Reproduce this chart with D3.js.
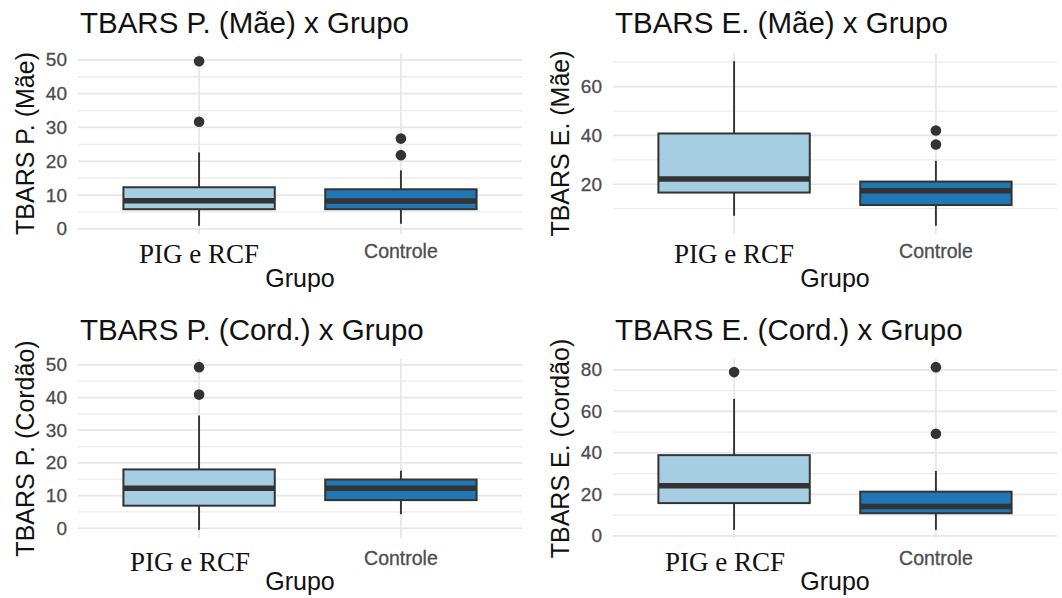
<!DOCTYPE html>
<html>
<head>
<meta charset="utf-8">
<script src="https://cdn.jsdelivr.net/npm/d3@7"></script>
<style>
  body { margin: 0; background: #fff; }
  svg { display: block; }
</style>
</head>
<body>
<div id="chart"></div>
<script>
// groups on the x axis
var groups = ["PIG e RCF", "Controle"];

// box stats: lo whisker, q1, median, q3, hi whisker, outliers
var pMae = [
    {group: "PIG e RCF", lo: 0.9, q1: 5.8, med: 8.3, q3: 12.3, hi: 22.6, out: [49.6, 31.7]},
    {group: "Controle",  lo: 1.5, q1: 5.8, med: 8.2, q3: 11.7, hi: 17.3, out: [26.7, 21.8]}
];
var eMae = [
    {group: "PIG e RCF", lo: 7.1, q1: 16.6, med: 22.2, q3: 40.8, hi: 70.4, out: []},
    {group: "Controle",  lo: 3.0, q1: 11.5, med: 17.3, q3: 21.1, hi: 29.6, out: [42.0, 36.3]}
];
var pCord = [
    {group: "PIG e RCF", lo: -0.5, q1: 6.9, med: 12.2, q3: 18.0, hi: 34.5, out: [49.3, 40.9]},
    {group: "Controle",  lo: 4.3,  q1: 8.6, med: 12.2, q3: 14.9, hi: 17.6, out: []}
];
var eCord = [
    {group: "PIG e RCF", lo: 2.9, q1: 15.8, med: 24.2, q3: 38.9, hi: 66.0, out: [78.9]},
    {group: "Controle",  lo: 2.9, q1: 10.9, med: 14.1, q3: 21.3, hi: 31.3, out: [81.3, 49.2]}
];

// tick labels
var ticksPMae = [0, 10, 20, 30, 40, 50];
var ticksEMae = [20, 40, 60];
var ticksPCord = [0, 10, 20, 30, 40, 50];
var ticksECord = [0, 20, 40, 60, 80];
var minorPMae = [5, 15, 25, 35, 45];
var minorEMae = [10, 30, 50, 70];
var minorPCord = [5, 15, 25, 35, 45];
var minorECord = [10, 30, 50, 70];

var titles = ["TBARS P. (Mãe) x Grupo", "TBARS E. (Mãe) x Grupo",
              "TBARS P. (Cord.) x Grupo", "TBARS E. (Cord.) x Grupo"];
var yTitles = ["TBARS P. (Mãe)", "TBARS E. (Mãe)", "TBARS P. (Cordão)", "TBARS E. (Cordão)"];

var fills = d3.scaleOrdinal().domain(groups).range(["#a6cee3", "#1f78b4"]);

var svg = d3.select("#chart")
    .append("svg")
    .attr("width", 1062)
    .attr("height", 598);

svg.append("rect").attr("width", 1062).attr("height", 598).attr("fill", "#fff");

// panel layouts (pixels)
var panels = [
    {data: pMae,  ticks: ticksPMae,  minor: minorPMae,  left: 78,  right: 522,  top: 53,  bottom: 234,
     titleY: 33,  pigY: 262.5, ctrlY: 258, grupoY: 287, pigDx: 0},
    {data: eMae,  ticks: ticksEMae,  minor: minorEMae,  left: 613, right: 1057, top: 53,  bottom: 234,
     titleY: 33,  pigY: 262.5, ctrlY: 258, grupoY: 287, pigDx: 0},
    {data: pCord, ticks: ticksPCord, minor: minorPCord, left: 78,  right: 522,  top: 359, bottom: 538,
     titleY: 340, pigY: 570.5, ctrlY: 565, grupoY: 590, pigDx: -9},
    {data: eCord, ticks: ticksECord, minor: minorECord, left: 613, right: 1057, top: 359, bottom: 538,
     titleY: 340, pigY: 570.5, ctrlY: 565, grupoY: 590, pigDx: -9}
];

var sans = "'Liberation Sans', Arial, sans-serif";
var serif = "'Liberation Serif', 'Times New Roman', serif";

panels.forEach(function(p, i) {

    var g = svg.append("g");

    // x: discrete, ggplot style padding of 0.6
    var x = d3.scalePoint()
        .domain(groups)
        .range([p.left, p.right])
        .padding(0.6);
    var boxW = x.step() * 0.75;

    // y: data range with 5% expansion
    var lo = d3.min(p.data, function(d) { return d3.min([d.lo].concat(d.out)); });
    var hi = d3.max(p.data, function(d) { return d3.max([d.hi].concat(d.out)); });
    var pad = (hi - lo) * 0.05;
    var y = d3.scaleLinear()
        .domain([lo - pad, hi + pad])
        .range([p.bottom, p.top]);

    // grid
    g.selectAll(".minor")
        .data(p.minor)
        .enter()
        .append("line")
            .attr("x1", p.left).attr("x2", p.right)
            .attr("y1", function(d) { return y(d); })
            .attr("y2", function(d) { return y(d); })
            .attr("stroke", "#ebebeb")
            .attr("stroke-width", 1.3);

    g.selectAll(".major")
        .data(p.ticks)
        .enter()
        .append("line")
            .attr("x1", p.left).attr("x2", p.right)
            .attr("y1", function(d) { return y(d); })
            .attr("y2", function(d) { return y(d); })
            .attr("stroke", "#e6e6e6")
            .attr("stroke-width", 1.7);

    g.selectAll(".vgrid")
        .data(groups)
        .enter()
        .append("line")
            .attr("x1", function(d) { return x(d); })
            .attr("x2", function(d) { return x(d); })
            .attr("y1", p.top).attr("y2", p.bottom)
            .attr("stroke", "#e6e6e6")
            .attr("stroke-width", 1.7);

    // y tick labels
    g.selectAll(".ytick")
        .data(p.ticks)
        .enter()
        .append("text")
            .attr("x", p.left - 11)
            .attr("y", function(d) { return y(d) + 6.5; })
            .attr("text-anchor", "end")
            .style("font-family", sans)
            .style("font-size", "19px")
            .style("fill", "#4d4d4d")
            .style("stroke", "#4d4d4d")
            .style("stroke-width", 0.3)
            .text(function(d) { return d; });

    // boxes
    var box = g.selectAll(".box")
        .data(p.data)
        .enter()
        .append("g");

    box.append("line")
        .attr("x1", function(d) { return x(d.group); })
        .attr("x2", function(d) { return x(d.group); })
        .attr("y1", function(d) { return y(d.q3); })
        .attr("y2", function(d) { return y(d.hi); })
        .attr("stroke", "#333")
        .attr("stroke-width", 1.9);

    box.append("line")
        .attr("x1", function(d) { return x(d.group); })
        .attr("x2", function(d) { return x(d.group); })
        .attr("y1", function(d) { return y(d.q1); })
        .attr("y2", function(d) { return y(d.lo); })
        .attr("stroke", "#333")
        .attr("stroke-width", 1.9);

    box.append("rect")
        .attr("x", function(d) { return x(d.group) - boxW / 2; })
        .attr("y", function(d) { return y(d.q3); })
        .attr("width", boxW)
        .attr("height", function(d) { return y(d.q1) - y(d.q3); })
        .attr("fill", function(d) { return fills(d.group); })
        .attr("stroke", "#333")
        .attr("stroke-width", 2);

    box.append("line")
        .attr("x1", function(d) { return x(d.group) - boxW / 2; })
        .attr("x2", function(d) { return x(d.group) + boxW / 2; })
        .attr("y1", function(d) { return y(d.med); })
        .attr("y2", function(d) { return y(d.med); })
        .attr("stroke", "#333")
        .attr("stroke-width", 5.5);

    box.selectAll(".out")
        .data(function(d) { return d.out.map(function(v) { return {group: d.group, v: v}; }); })
        .enter()
        .append("circle")
            .attr("cx", function(d) { return x(d.group); })
            .attr("cy", function(d) { return y(d.v); })
            .attr("r", 5.3)
            .attr("fill", "#333");

    // x labels: first one is serif and larger, as in the picture
    g.append("text")
        .attr("x", x(groups[0]) + p.pigDx)
        .attr("y", p.pigY)
        .attr("text-anchor", "middle")
        .style("font-family", serif)
        .style("font-size", "27px")
        .style("fill", "#111")
        .text(groups[0]);

    g.append("text")
        .attr("x", x(groups[1]))
        .attr("y", p.ctrlY)
        .attr("text-anchor", "middle")
        .style("font-family", sans)
        .style("font-size", "19.5px")
        .style("fill", "#4d4d4d")
        .style("stroke", "#4d4d4d")
        .style("stroke-width", 0.3)
        .text(groups[1]);

    // axis titles
    g.append("text")
        .attr("x", (p.left + p.right) / 2)
        .attr("y", p.grupoY)
        .attr("text-anchor", "middle")
        .style("font-family", sans)
        .style("font-size", "25px")
        .style("fill", "#111")
        .text("Grupo");

    g.append("text")
        .attr("transform", "translate(" + (p.left - 44) + "," + ((p.top + p.bottom) / 2) + ") rotate(-90)")
        .attr("text-anchor", "middle")
        .style("font-family", sans)
        .style("font-size", "25px")
        .style("fill", "#111")
        .text(yTitles[i]);

    // title
    g.append("text")
        .attr("x", p.left + 2)
        .attr("y", p.titleY)
        .style("font-family", sans)
        .style("font-size", "29.5px")
        .style("fill", "#111")
        .text(titles[i]);
});
</script>
</body>
</html>
